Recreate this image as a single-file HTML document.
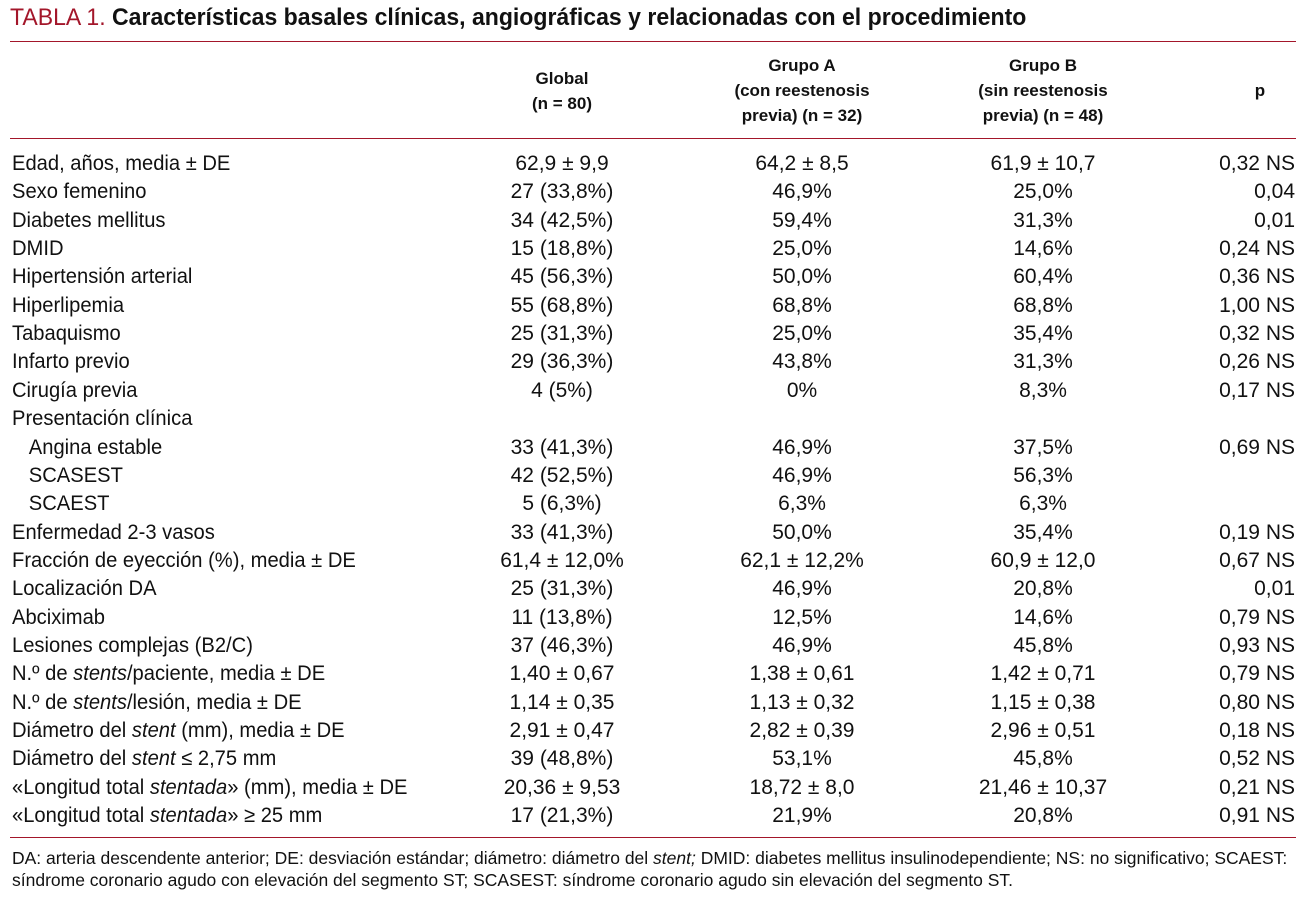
<!DOCTYPE html>
<html><head><meta charset="utf-8"><style>
body{margin:0;width:1304px;height:899px;background:#fff;position:relative;font-family:"Liberation Sans Narrow","Liberation Sans",sans-serif;color:#111;overflow:hidden}
.a{position:absolute;white-space:nowrap}
.t{left:10px;top:4px;font-size:24px;line-height:28px;font-family:"Liberation Sans",sans-serif;transform:scaleX(0.96);transform-origin:left}
.t .r{color:#a3162a}
.t b{font-weight:bold}
.hl{position:absolute;left:10px;width:1286px;height:1px;background:#a3162a}
.h{font-weight:bold;font-size:17px;line-height:25px;text-align:center;width:220px}
.row{position:absolute;left:0;width:1304px;height:26px;font-size:21px;line-height:26px}
.row span{position:absolute;white-space:nowrap}
.l{left:12px;transform:scaleX(0.96);transform-origin:left}.g{left:452px;width:220px;text-align:center}.ga{left:692px;width:220px;text-align:center}.gb{left:933px;width:220px;text-align:center}.p{right:9px;text-align:right}
.f{left:12px;font-size:17.5px;line-height:22px}
</style></head><body>
<div class="a t"><span class="r">TABLA 1.</span> <b>Características basales clínicas, angiográficas y relacionadas con el procedimiento</b></div>
<div class="hl" style="top:41px"></div>
<div class="a h" style="left:452px;top:66px">Global<br>(n = 80)</div>
<div class="a h" style="left:692px;top:53px">Grupo A<br>(con reestenosis<br>previa) (n = 32)</div>
<div class="a h" style="left:933px;top:53px">Grupo B<br>(sin reestenosis<br>previa) (n = 48)</div>
<div class="a h" style="left:1150px;top:78px">p</div>
<div class="hl" style="top:138px"></div>
<div id="rows"></div>
<div class="hl" style="top:837px"></div>
<div class="a f" style="top:847px">DA: arteria descendente anterior; DE: desviación estándar; diámetro: diámetro del <i>stent;</i> DMID: diabetes mellitus insulinodependiente; NS: no significativo; SCAEST:<br>síndrome coronario agudo con elevación del segmento ST; SCASEST: síndrome coronario agudo sin elevación del segmento ST.</div>
<script>
var d=[
["Edad, años, media ± DE","62,9 ± 9,9","64,2 ± 8,5","61,9 ± 10,7","0,32 NS"],
["Sexo femenino","27 (33,8%)","46,9%","25,0%","0,04"],
["Diabetes mellitus","34 (42,5%)","59,4%","31,3%","0,01"],
["DMID","15 (18,8%)","25,0%","14,6%","0,24 NS"],
["Hipertensión arterial","45 (56,3%)","50,0%","60,4%","0,36 NS"],
["Hiperlipemia","55 (68,8%)","68,8%","68,8%","1,00 NS"],
["Tabaquismo","25 (31,3%)","25,0%","35,4%","0,32 NS"],
["Infarto previo","29 (36,3%)","43,8%","31,3%","0,26 NS"],
["Cirugía previa","4 (5%)","0%","8,3%","0,17 NS"],
["Presentación clínica","","","",""],
["&nbsp;&nbsp;&nbsp;Angina estable","33 (41,3%)","46,9%","37,5%","0,69 NS"],
["&nbsp;&nbsp;&nbsp;SCASEST","42 (52,5%)","46,9%","56,3%",""],
["&nbsp;&nbsp;&nbsp;SCAEST","5 (6,3%)","6,3%","6,3%",""],
["Enfermedad 2-3 vasos","33 (41,3%)","50,0%","35,4%","0,19 NS"],
["Fracción de eyección (%), media ± DE","61,4 ± 12,0%","62,1 ± 12,2%","60,9 ± 12,0","0,67 NS"],
["Localización DA","25 (31,3%)","46,9%","20,8%","0,01"],
["Abciximab","11 (13,8%)","12,5%","14,6%","0,79 NS"],
["Lesiones complejas (B2/C)","37 (46,3%)","46,9%","45,8%","0,93 NS"],
["N.º de <i>stents</i>/paciente, media ± DE","1,40 ± 0,67","1,38 ± 0,61","1,42 ± 0,71","0,79 NS"],
["N.º de <i>stents</i>/lesión, media ± DE","1,14 ± 0,35","1,13 ± 0,32","1,15 ± 0,38","0,80 NS"],
["Diámetro del <i>stent</i> (mm), media ± DE","2,91 ± 0,47","2,82 ± 0,39","2,96 ± 0,51","0,18 NS"],
["Diámetro del <i>stent</i> ≤ 2,75 mm","39 (48,8%)","53,1%","45,8%","0,52 NS"],
["«Longitud total <i>stentada</i>» (mm), media ± DE","20,36 ± 9,53","18,72 ± 8,0","21,46 ± 10,37","0,21 NS"],
["«Longitud total <i>stentada</i>» ≥ 25 mm","17 (21,3%)","21,9%","20,8%","0,91 NS"]];
var h="";d.forEach(function(r,i){var y=164+i*28.35-13;
h+='<div class="row" style="top:'+y+'px"><span class="l">'+r[0]+'</span><span class="g">'+r[1]+'</span><span class="ga">'+r[2]+'</span><span class="gb">'+r[3]+'</span><span class="p">'+r[4]+'</span></div>';});
document.getElementById("rows").outerHTML=h;
</script>
</body></html>
